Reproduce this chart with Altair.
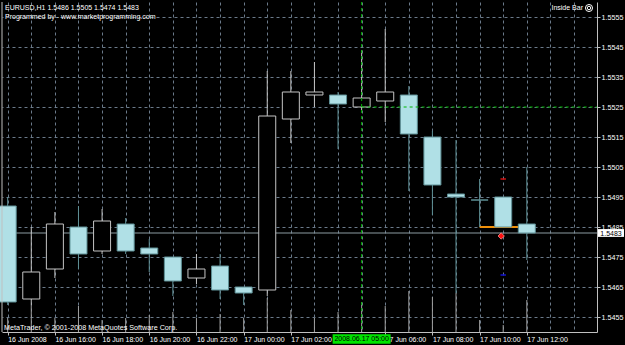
import altair as alt
import pandas as pd

# ---- data (EURUSD H1, 16 Jun 2008 14:00 .. 17 Jun 12:00) ----
OPEN  = [1.5492, 1.5461, 1.5471, 1.5485, 1.5477, 1.5486, 1.5478, 1.5475, 1.5468, 1.5472, 1.5465, 1.5464,
         1.5521, 1.5529, 1.5529, 1.5525, 1.5527, 1.5529, 1.5515, 1.5496, 1.5494, 1.5495, 1.5486]
HIGH  = [1.5495, 1.5485, 1.5490, 1.5492, 1.5491, 1.5488, 1.5481, 1.5475, 1.5476, 1.5476, 1.5465, 1.5537,
         1.5537, 1.5540, 1.5530, 1.5544, 1.5551, 1.5532, 1.5517, 1.5514, 1.5501, 1.5495, 1.5505]
LOW   = [1.5459, 1.5459, 1.5468, 1.5471, 1.5476, 1.5476, 1.5470, 1.5462, 1.5466, 1.5461, 1.5459, 1.5462,
         1.5513, 1.5525, 1.5511, 1.5524, 1.5520, 1.5497, 1.5489, 1.5463, 1.5485, 1.5485, 1.5474]
CLOSE = [1.5460, 1.5470, 1.5486, 1.5476, 1.5487, 1.5477, 1.5476, 1.5467, 1.5471, 1.5464, 1.5463, 1.5522,
         1.5530, 1.5530, 1.5526, 1.5528, 1.5530, 1.5516, 1.5499, 1.5495, 1.5494, 1.5485, 1.5483]
VOLUME = [140, 270, 140, 260, 120, 140, 170, 200, 140, 180, 140, 340, 220, 140, 200, 300, 260, 410, 350,
          390, 120, 70, 320]

# time labels every 2 bars; the one under the crosshair box (17 Jun 04:00) is hidden in the picture
LABEL_BARS = [0, 2, 4, 6, 8, 10, 12, 16, 18, 20, 22]
TIME_LABELS = ["16 Jun 2008", "16 Jun 16:00", "16 Jun 18:00", "16 Jun 20:00", "16 Jun 22:00",
               "17 Jun 00:00", "17 Jun 02:00", "17 Jun 06:00", "17 Jun 08:00",
               "17 Jun 10:00", "17 Jun 12:00"]
PRICE_TICKS = [1.5455, 1.5465, 1.5475, 1.5485, 1.5495, 1.5505, 1.5515, 1.5525, 1.5535, 1.5545, 1.5555]
BID = [1.5483]
LEVEL = [1.5485]            # orange indicator level, bar 20 -> bar 22
LEVEL_BARS = [20, 22]
MARK_BAR = [21]
RED_DASH = [1.5501]
BLUE_DASH = [1.5469]
DIAMOND = [1.5482]
CROSS_BAR = [15]
CROSS_PRICE = [1.5525]
CROSS_LABEL = ["2008.06.17 05:00"]
HEADER = ["EURUSD,H1  1.5486 1.5505 1.5474 1.5483", "Programmed by - www.marketprogramming.com"]
FOOTER = ["MetaTrader, \u00a9 2001-2008 MetaQuotes Software Corp."]
INDICATOR = ["Inside Bar"]

FONT = "Tahoma, Liberation Sans, Arial, sans-serif"
GRID = "#6b7a8a"
FRAME = "#c0c0c0"
BEAR = "#b0e0e6"

n = len(OPEN)
df = pd.DataFrame({"i": list(range(n)), "open": OPEN, "high": HIGH, "low": LOW,
                   "close": CLOSE, "vol": VOLUME})
df["dir"] = ["up" if c > o else "down" for o, c in zip(OPEN, CLOSE)]

XS = alt.Scale(domain=[-0.029, 24.763], nice=False, zero=False)
YS = alt.Scale(domain=[1.5450, 1.5560], nice=False, zero=False)

label_map = "{" + ",".join("'%d':'%s'" % (b, s) for b, s in zip(LABEL_BARS, TIME_LABELS)) + "}"
label_expr = label_map + "[format(datum.value, 'd')]"

# volumes (also carry the vertical grid)
volumes = alt.Chart(df).mark_rule(color="#a0a0a0", strokeWidth=1).encode(
    x=alt.X("i:Q", scale=XS, axis=alt.Axis(orient="bottom", values=list(range(25)), grid=True,
                                           gridDash=[3, 3], gridColor=GRID, gridWidth=1,
                                           labels=False, ticks=False, domain=False, title=None,
                                           zindex=0)),
    y=alt.Y("vol:Q", scale=alt.Scale(domain=[0, 3300], nice=False), axis=None),
    y2=alt.value(330),
)

bid = alt.Chart(pd.DataFrame({"p": BID})).mark_rule(color="#8c9ca2", strokeWidth=1).encode(
    y=alt.Y("p:Q", scale=YS, axis=None))

level = alt.Chart(pd.DataFrame({"p": LEVEL, "a": [LEVEL_BARS[0]], "b": [LEVEL_BARS[1]]})).mark_rule(
    color="#f0900a", strokeWidth=2).encode(
    x=alt.X("a:Q", scale=XS, axis=None), x2="b:Q", y=alt.Y("p:Q", scale=YS, axis=None))

wicks = alt.Chart(df).mark_rule(strokeWidth=1).encode(
    x=alt.X("i:Q", scale=XS, axis=alt.Axis(orient="bottom", values=LABEL_BARS,
                                           labelExpr=label_expr,
                                           labelAlign="left", labelColor="#ffffff", labelFont=FONT,
                                           labelFontSize=7, labelPadding=0, tickSize=3,
                                           tickColor=FRAME, domainColor=FRAME, grid=False,
                                           labelOverlap=False, labelFlush=False, labelBound=False,
                                           title=None, zindex=0)),
    y=alt.Y("low:Q", scale=YS, axis=alt.Axis(orient="right", values=PRICE_TICKS, format=".4f",
                                             labelColor="#ffffff", labelFont=FONT, labelFontSize=7.2,
                                             labelPadding=1, tickSize=3, tickColor=FRAME,
                                             domainColor=FRAME, grid=True, gridColor=GRID,
                                             gridDash=[3, 3], gridWidth=1, title=None, zindex=0,
                                             labelOverlap=False, labelFlush=False)),
    y2="high:Q",
    stroke=alt.Stroke("dir:N", scale=alt.Scale(domain=["up", "down"], range=["#c4c4c4", "#5f9096"]),
                      legend=None),
)

bodies = alt.Chart(df).mark_bar(size=17, strokeWidth=1).encode(
    x=alt.X("i:Q", scale=XS, axis=None),
    y=alt.Y("open:Q", scale=YS, axis=None),
    y2="close:Q",
    fill=alt.Fill("dir:N", scale=alt.Scale(domain=["up", "down"], range=["#000000", BEAR]), legend=None),
    stroke=alt.Stroke("dir:N", scale=alt.Scale(domain=["up", "down"], range=["#d8d8d8", "#a0d2d8"]),
                      legend=None),
)

red_dash = alt.Chart(pd.DataFrame({"i": MARK_BAR, "p": RED_DASH})).mark_point(
    shape="M-1,0L1,0", size=30, stroke="#d01010", strokeWidth=1.5, filled=False, opacity=1).encode(
    x=alt.X("i:Q", scale=XS, axis=None), y=alt.Y("p:Q", scale=YS, axis=None))
blue_dash = alt.Chart(pd.DataFrame({"i": MARK_BAR, "p": BLUE_DASH})).mark_point(
    shape="M-1,0L1,0", size=30, stroke="#1010d0", strokeWidth=1.5, filled=False, opacity=1).encode(
    x=alt.X("i:Q", scale=XS, axis=None), y=alt.Y("p:Q", scale=YS, axis=None))
diamond = alt.Chart(pd.DataFrame({"i": MARK_BAR, "p": DIAMOND})).mark_point(
    shape="diamond", size=40, fill="#ff1010", stroke="#ff9090", strokeWidth=0.8, filled=True,
    opacity=1, xOffset=-2).encode(
    x=alt.X("i:Q", scale=XS, axis=None), y=alt.Y("p:Q", scale=YS, axis=None))

cross_v = alt.Chart(pd.DataFrame({"i": CROSS_BAR})).mark_rule(
    color="#00b400", strokeDash=[3, 3], strokeWidth=1).encode(x=alt.X("i:Q", scale=XS, axis=None))
cross_h = alt.Chart(pd.DataFrame({"i": CROSS_BAR, "p": CROSS_PRICE})).mark_rule(
    color="#00b400", strokeDash=[3, 3], strokeWidth=1).encode(
    x=alt.X("i:Q", scale=XS, axis=None), x2=alt.value(595), y=alt.Y("p:Q", scale=YS, axis=None))

cross_box = alt.Chart(pd.DataFrame({"i": CROSS_BAR})).mark_point(
    shape="M-1,-0.16L1,-0.16L1,0.16L-1,0.16Z", size=58 * 58, fill="#00e400", filled=True,
    strokeWidth=0, opacity=1).encode(x=alt.X("i:Q", scale=XS, axis=None), y=alt.value(337))
cross_text = alt.Chart(pd.DataFrame({"i": CROSS_BAR, "t": CROSS_LABEL})).mark_text(
    font=FONT, fontSize=7, color="#000000", align="center", baseline="middle").encode(
    x=alt.X("i:Q", scale=XS, axis=None), y=alt.value(337), text="t:N")

bid_box = alt.Chart(pd.DataFrame({"p": BID})).mark_point(
    shape="M-1,-0.3L1,-0.3L1,0.3L-1,0.3Z", size=26 * 26, fill="#ffffff", filled=True,
    strokeWidth=0, opacity=1).encode(x=alt.value(609), y=alt.Y("p:Q", scale=YS, axis=None))
bid_text = alt.Chart(pd.DataFrame({"p": BID})).mark_text(
    font=FONT, fontSize=7, color="#000000", align="center", baseline="middle", dy=0.5).encode(
    x=alt.value(609), y=alt.Y("p:Q", scale=YS, axis=None), text=alt.Text("p:Q", format=".4f"))

left_frame = alt.Chart(pd.DataFrame({"i": [0]})).mark_rule(color=FRAME, strokeWidth=1).encode(
    x=alt.value(0))

header = alt.Chart(pd.DataFrame({"t": HEADER, "row": [0, 1]})).mark_text(
    font=FONT, fontSize=7, color="#ffffff", align="left", baseline="alphabetic").encode(
    x=alt.value(3), y=alt.Y("row:Q", scale=alt.Scale(domain=[0, 1], range=[8, 17]), axis=None),
    text="t:N")
footer = alt.Chart(pd.DataFrame({"t": FOOTER})).mark_text(
    font=FONT, fontSize=7.2, color="#ffffff", align="left", baseline="alphabetic").encode(
    x=alt.value(2), y=alt.value(327.5), text="t:N")
indicator = alt.Chart(pd.DataFrame({"t": INDICATOR})).mark_text(
    font=FONT, fontSize=7, color="#ffffff", align="right", baseline="alphabetic").encode(
    x=alt.value(581), y=alt.value(8), text="t:N")
ring_outer = alt.Chart(pd.DataFrame({"t": INDICATOR})).mark_point(
    shape="circle", size=50, stroke="#ffffff", strokeWidth=1, filled=False, opacity=1).encode(
    x=alt.value(587), y=alt.value(6))
ring_inner = alt.Chart(pd.DataFrame({"t": INDICATOR})).mark_point(
    shape="circle", size=12, stroke="#ffffff", strokeWidth=1, filled=False, opacity=1).encode(
    x=alt.value(587), y=alt.value(6))

chart = alt.layer(
    volumes, bid, level, wicks, bodies, red_dash, blue_dash, diamond, cross_v, cross_h,
    cross_box, cross_text, bid_box, bid_text, left_frame, header, footer, indicator,
    ring_outer, ring_inner,
).resolve_scale(y="independent").resolve_axis(x="independent", y="independent").properties(
    width=595, height=330, background="#000000",
    padding={"left": 2, "top": 2, "right": 28, "bottom": 13},
    autosize=alt.AutoSizeParams(type="none"),
).configure_view(stroke=None)

chart.save("out.html", embed_options={"renderer": "svg", "actions": False})
